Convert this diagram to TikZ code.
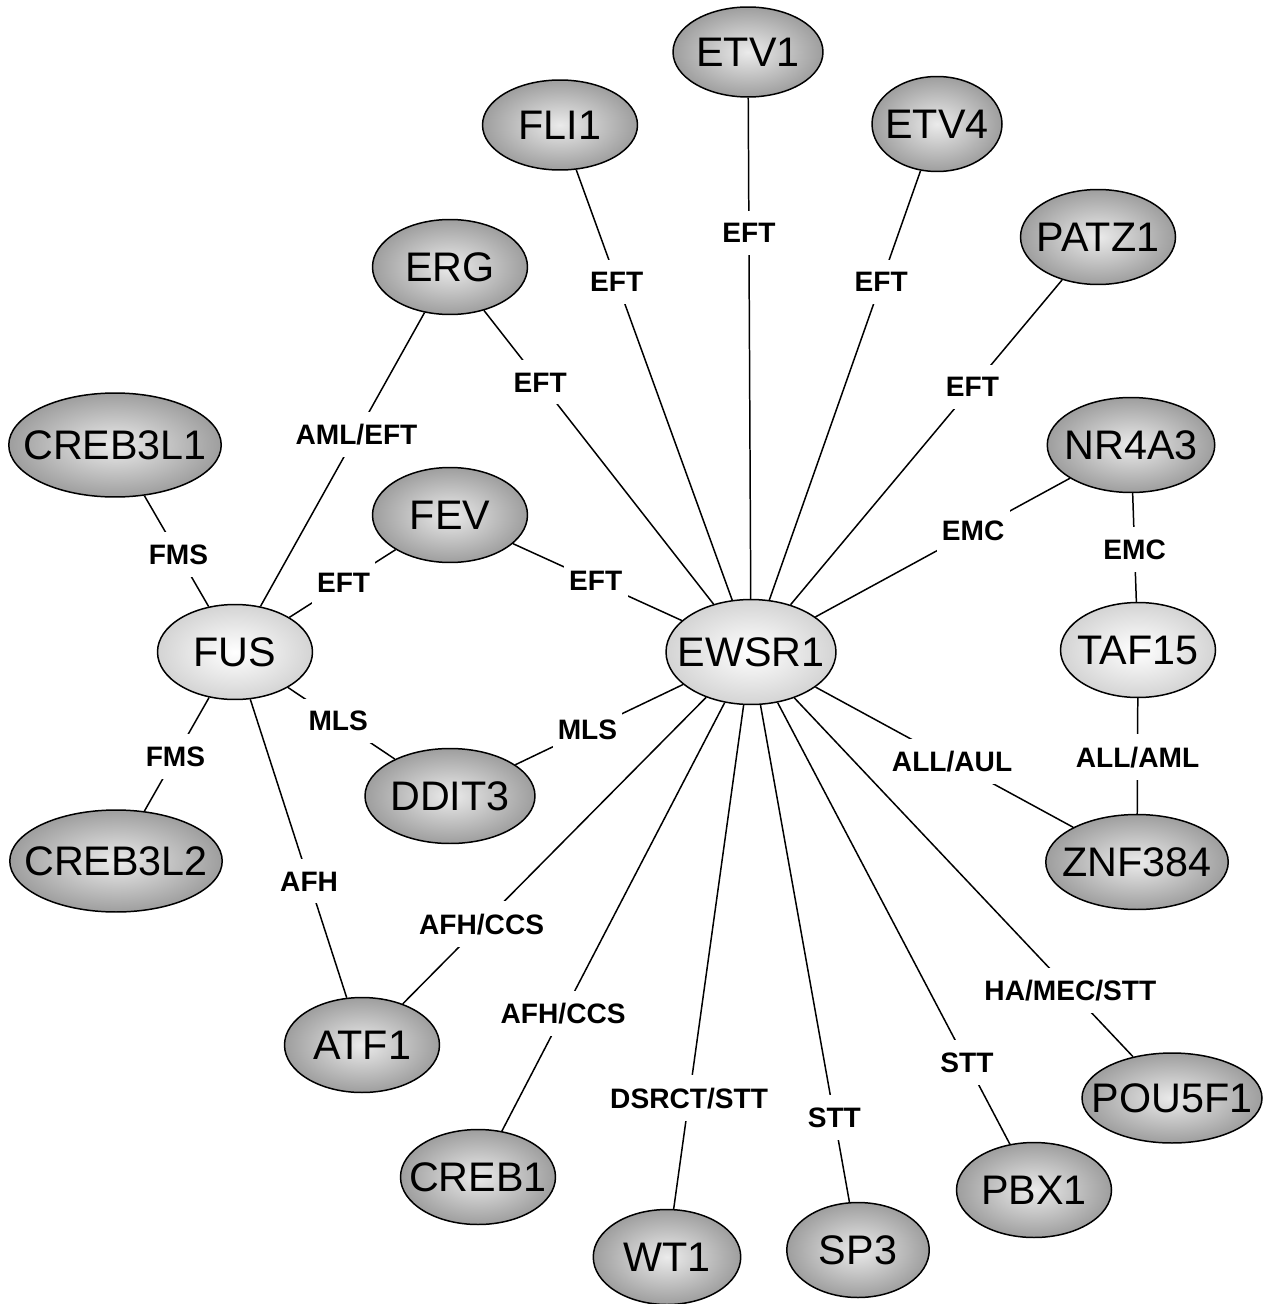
\documentclass[tikz,border=0pt]{standalone}
\usepackage{fontspec}
\setmainfont{Liberation Sans}
\usetikzlibrary{shapes.geometric}
\definecolor{genein}{gray}{0.92}
\definecolor{geneout}{gray}{0.62}
\definecolor{hubout}{gray}{0.83}
\tikzset{gene/.style={ellipse,draw,line width=0.85pt,inner sep=0pt,
    minimum width=3.1cm,minimum height=1.9cm,
    inner color=genein,outer color=geneout,
    font=\fontsize{23.5}{27}\selectfont}}
\tikzset{hub/.style={gene,inner color=white,outer color=hubout}}
\tikzset{lbl/.style={fill=white,inner xsep=3pt,inner ysep=7pt,
    font=\bfseries\fontsize{16}{18}\selectfont}}
\newcommand\genename[1]{\makebox[0pt]{#1}}

\begin{document}
\begin{tikzpicture}[x=0.02cm,y=-0.02cm]
        \useasboundingbox (0,0) rectangle (1268,1304);
        % fusion partners of the three FET genes
        \node(EWSR1)[hub,minimum width=3.4cm,minimum height=2.1cm] at (751,652){\genename{EWSR1}};
        \node(FUS)[hub] at (235,652){\genename{FUS}};
        \node(TAF15)[hub] at (1138,650){\genename{TAF15}};
        \node(ETV1)[gene,minimum width=3cm,minimum height=1.8cm] at (748,52){\genename{ETV1}};
        \node(FLI1)[gene,minimum height=1.8cm] at (560,125){\genename{FLI1}};
        \node(ETV4)[gene,minimum width=2.6cm] at (937,124){\genename{ETV4}};
        \node(PATZ1)[gene] at (1098,237){\genename{PATZ1}};
        \node(ERG)[gene] at (450,267){\genename{ERG}};
        \node(CREB3L1)[gene,minimum width=4.25cm,minimum height=2.08cm] at (115,445){\genename{CREB3L1}};
        \node(NR4A3)[gene,minimum width=3.35cm] at (1131,445){\genename{NR4A3}};
        \node(FEV)[gene] at (450,515){\genename{FEV}};
        \node(DDIT3)[gene,minimum width=3.4cm] at (450,796){\genename{DDIT3}};
        \node(CREB3L2)[gene,minimum width=4.25cm,minimum height=2.04cm] at (116,861){\genename{CREB3L2}};
        \node(ZNF384)[gene,minimum width=3.65cm] at (1137,862){\genename{ZNF384}};
        \node(ATF1)[gene] at (362,1045){\genename{ATF1}};
        \node(CREB1)[gene] at (478,1177){\genename{CREB1}};
        \node(WT1)[gene,minimum width=2.95cm] at (667,1257){\genename{WT1}};
        \node(SP3)[gene,minimum width=2.85cm] at (858,1250){\genename{SP3}};
        \node(PBX1)[gene] at (1034,1190){\genename{PBX1}};
        \node(POU5F1)[gene,minimum width=3.6cm,minimum height=1.8cm] at (1172,1098){\genename{POU5F1}};
        \draw[line width=0.85pt]
        (EWSR1) edge node[lbl,pos=.73]{EFT} (ETV1)
        (EWSR1) edge node[lbl,pos=.74]{EFT} (FLI1)
        (EWSR1) edge node[lbl,pos=.74]{EFT} (ETV4)
        (EWSR1) edge node[lbl,pos=.67]{EFT} (PATZ1)
        (EWSR1) edge node[lbl,pos=.755]{EFT} (ERG)
        (EWSR1) edge node[lbl,pos=.51]{EFT} (FEV)
        (EWSR1) edge node[lbl,pos=.62]{EMC} (NR4A3)
        (EWSR1) edge node[lbl,pos=.53]{ALL/AUL} (ZNF384)
        (EWSR1) edge node[lbl,pos=.815]{HA/MEC/STT} (POU5F1)
        (EWSR1) edge node[lbl,pos=.815]{STT} (PBX1)
        (EWSR1) edge node[lbl,pos=.83]{STT} (SP3)
        (EWSR1) edge node[lbl,pos=.78]{DSRCT/STT} (WT1)
        (EWSR1) edge node[lbl,pos=.725]{AFH/CCS} (CREB1)
        (EWSR1) edge node[lbl,pos=.74]{AFH/CCS} (ATF1)
        (EWSR1) edge node[lbl,pos=.57]{MLS} (DDIT3)
        (FUS) edge node[lbl,pos=.47]{FMS} (CREB3L1)
        (FUS) edge node[lbl,pos=.585]{AML/EFT} (ERG)
        (FUS) edge node[lbl,pos=.51]{EFT} (FEV)
        (FUS) edge node[lbl,pos=.47]{MLS} (DDIT3)
        (FUS) edge node[lbl,pos=.52]{FMS} (CREB3L2)
        (FUS) edge node[lbl,pos=.61]{AFH} (ATF1)
        (NR4A3) edge node[lbl,pos=.52]{EMC} (TAF15)
        (TAF15) edge node[lbl,pos=.51]{ALL/AML} (ZNF384);
      \end{tikzpicture}
\end{document}
